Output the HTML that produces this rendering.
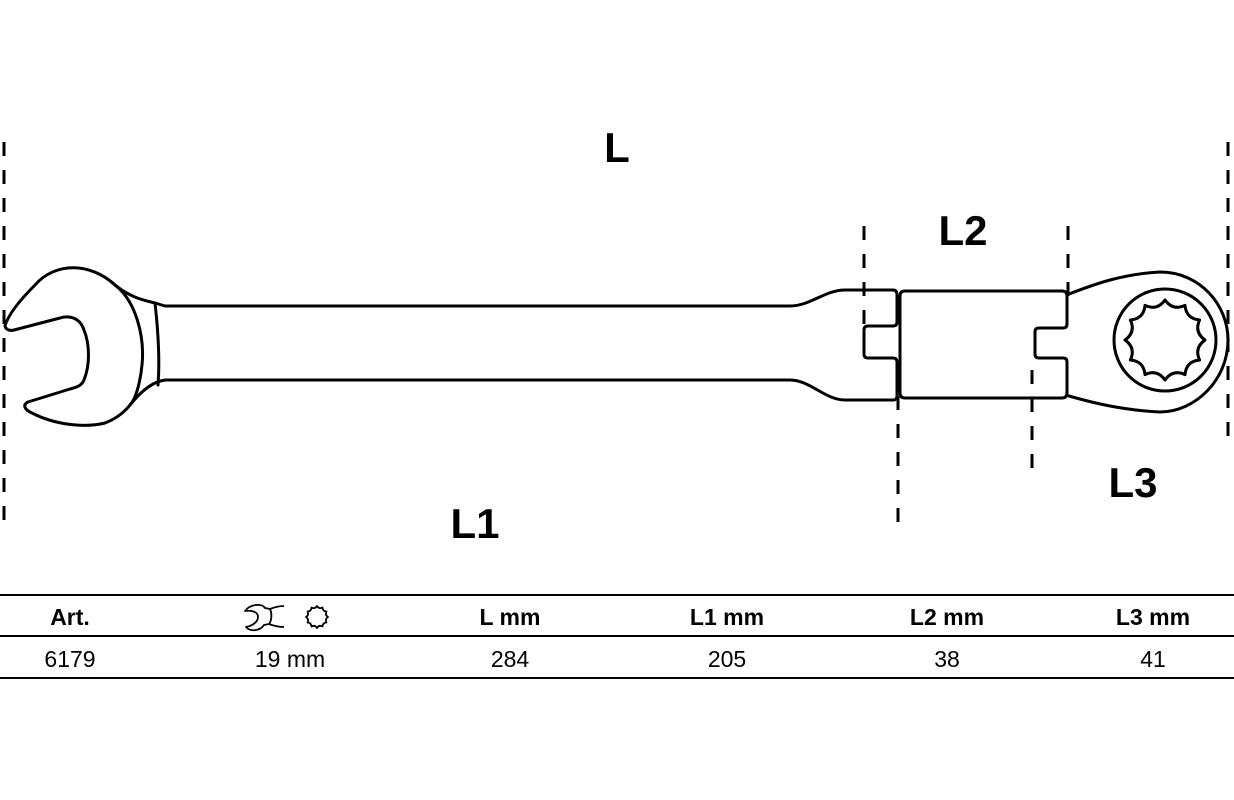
<!DOCTYPE html>
<html><head><meta charset="utf-8"><style>
html,body{margin:0;padding:0;background:#fff;}
svg{display:block;}
text{font-family:"Liberation Sans",sans-serif;fill:#000;}
</style></head><body>
<svg id="s" width="1234" height="800" viewBox="0 0 1234 800" xmlns="http://www.w3.org/2000/svg">
<g fill="none" stroke="#000" stroke-width="3" stroke-linejoin="round" stroke-linecap="round">
<path d="M115,285 C90,262 55,262 35,285 C20,300 8,315 5,326 C6,330 10,331 14,330 L60,318 C70,315 80,318 84,330 C90,345 90,365 84,380 C82,385 78,387 70,389 L28,402 C22,405 25,410 32,413 C55,425 85,428 105,423 C118,418 126,410 130,405"/>
<path d="M115,285 C135,300 145,335 142,365 C140,385 135,400 130,405"/>
<path d="M115,285 C130,297 142,300 155,303 C158,330 160,360 158,385"/>
<path d="M155,303 L165,306 L790,306 C810,306 825,290 845,290 L893,290 Q897,290 897,295 L897,322 Q897,326 893,326 L868,326 Q864,326 864,330 L864,354 Q864,358 868,358 L893,358 Q897,358 897,362 L897,396 Q897,400 893,400 L845,400 C825,400 810,380 790,380 L165,380 C150,382 138,395 130,405"/>
<path d="M905,291 L1062,291 Q1067,291 1067,296 L1067,324 Q1067,328 1063,328 L1039,328 Q1035,328 1035,332 L1035,354 Q1035,358 1039,358 L1063,358 Q1067,358 1067,362 L1067,393 Q1067,398 1062,398 L905,398 Q900,398 900,393 L900,296 Q900,291 905,291 Z"/>
<path d="M1069,294 C1090,286 1120,274 1160,272 C1200,272 1228,305 1228,340 C1228,380 1195,412 1160,412 C1120,410 1090,402 1069,396"/>
<circle cx="1165" cy="340" r="51"/>
<path id="star" d=""/>
</g>
<g stroke="#000" stroke-width="3" stroke-dasharray="14,14" fill="none">
<line x1="4" y1="142" x2="4" y2="528"/>
<line x1="1228" y1="142" x2="1228" y2="450"/>
<line x1="864" y1="226" x2="864" y2="340"/>
<line x1="1068" y1="226" x2="1068" y2="300"/>
<line x1="898" y1="396" x2="898" y2="530"/>
<line x1="1032" y1="370" x2="1032" y2="478"/>
</g>
<g font-weight="bold" font-size="42" text-anchor="middle">
<text x="617" y="162">L</text>
<text x="963" y="245">L2</text>
<text x="1133" y="497">L3</text>
<text x="475" y="538">L1</text>
</g>
<g stroke="#000" stroke-width="2">
<line x1="0" y1="595" x2="1234" y2="595"/>
<line x1="0" y1="636" x2="1234" y2="636"/>
<line x1="0" y1="678" x2="1234" y2="678"/>
</g>
<g font-size="23" text-anchor="middle">
<g font-weight="bold">
<text x="70" y="625">Art.</text>
<text x="510" y="625">L mm</text>
<text x="727" y="625">L1 mm</text>
<text x="947" y="625">L2 mm</text>
<text x="1153" y="625">L3 mm</text>
</g>
<text x="70" y="667">6179</text>
<text x="290" y="667">19 mm</text>
<text x="510" y="667">284</text>
<text x="727" y="667">205</text>
<text x="947" y="667">38</text>
<text x="1153" y="667">41</text>
</g>
<g fill="none" stroke="#000" stroke-width="1.8" stroke-linejoin="round">
<path d="M245,611 C250,604 262,603 265,608 L270,609 C272,613 272,620 269,624 L264,625 C260,631 250,632 246,627 C252,626 258,622 258,617 C258,612 252,610 245,611 Z"/>
<path d="M270,609 C275,607 280,606 284,606 M269,624 C274,626 279,627 284,627"/>
<path id="star2" d=""/>
</g>
</svg>
<script>
function st(cx,cy,R,r,id){var d="";for(var i=0;i<12;i++){var a0=i*Math.PI/6-Math.PI/2,a1=a0+Math.PI/12,a2=a0+Math.PI/6;
var p0=[cx+R*Math.cos(a0),cy+R*Math.sin(a0)],c=[cx+r*Math.cos(a1),cy+r*Math.sin(a1)],p2=[cx+R*Math.cos(a2),cy+R*Math.sin(a2)];
if(i==0)d+="M"+p0[0].toFixed(1)+","+p0[1].toFixed(1);
d+=" Q"+c[0].toFixed(1)+","+c[1].toFixed(1)+" "+p2[0].toFixed(1)+","+p2[1].toFixed(1);}
document.getElementById(id).setAttribute("d",d+"Z");}
st(1165,340,40,30,"star");st(317,617,11,8,"star2");
</script>
</body></html>
